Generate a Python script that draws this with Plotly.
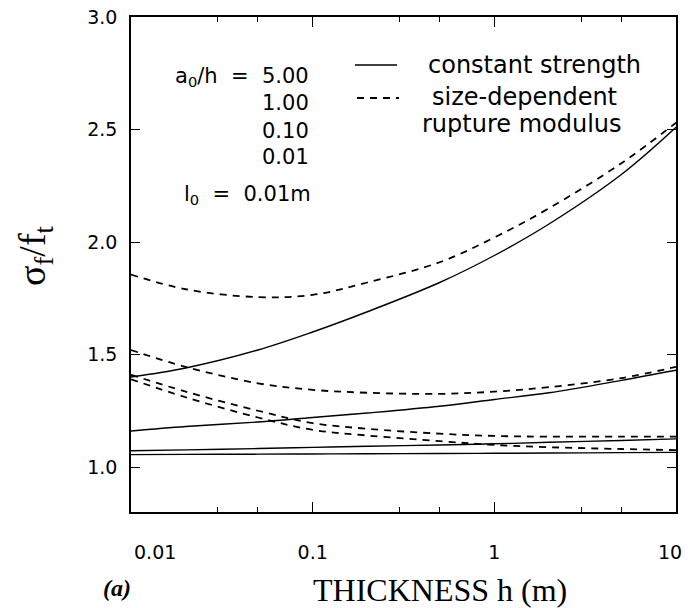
import plotly.graph_objects as go

# Thickness h (m)
H = [0.01, 0.02, 0.05, 0.1, 0.2, 0.5, 1, 2, 5, 10]

# constant strength (solid), a0/h = 5.00, 1.00, 0.10, 0.01
S_500 = [1.40, 1.44, 1.52, 1.60, 1.69, 1.82, 1.94, 2.08, 2.30, 2.51]
S_100 = [1.16, 1.18, 1.20, 1.22, 1.24, 1.27, 1.30, 1.33, 1.385, 1.43]
S_010 = [1.072, 1.076, 1.082, 1.087, 1.092, 1.098, 1.103, 1.11, 1.118, 1.125]
S_001 = [1.055, 1.056, 1.057, 1.058, 1.059, 1.06, 1.061, 1.062, 1.064, 1.065]

# size-dependent rupture modulus (dashed)
D_500 = [1.855, 1.79, 1.755, 1.765, 1.82, 1.91, 2.02, 2.15, 2.35, 2.53]
D_100 = [1.52, 1.445, 1.372, 1.343, 1.33, 1.325, 1.335, 1.355, 1.395, 1.445]
D_010 = [1.41, 1.335, 1.25, 1.195, 1.17, 1.148, 1.138, 1.135, 1.135, 1.135]
D_001 = [1.39, 1.31, 1.22, 1.165, 1.14, 1.115, 1.098, 1.088, 1.08, 1.075]

X_TICKS = [0.01, 0.1, 1, 10]
X_TICKTEXT = ["\u00a0" * 8 + "0.01", "0.1", "1", "10" + "\u00a0" * 2]
X_MINOR = [0.03, 0.05, 0.3, 0.5, 3, 5]
Y_TICKS = [1.0, 1.5, 2.0, 2.5, 3.0]
Y_TICKTEXT = ["1.0", "1.5", "2.0", "2.5", "3.0"]

fig = go.Figure()
solid = dict(color="black", width=1.4, shape="spline")
dashed = dict(color="black", width=1.8, dash="7px,6px", shape="spline")
for ys in [S_500, S_100, S_010, S_001]:
    fig.add_trace(go.Scatter(x=H, y=ys, mode="lines", line=solid, showlegend=False))
for ys in [D_500, D_100, D_010, D_001]:
    fig.add_trace(go.Scatter(x=H, y=ys, mode="lines", line=dashed, showlegend=False))

sans = "DejaVu Sans"
# page has an 8px body margin, so the figure is 8px smaller and margins shifted
fig.update_layout(
    width=684, height=600,
    margin=dict(l=123, r=16, t=9, b=96),
    paper_bgcolor="white", plot_bgcolor="white",
    xaxis=dict(
        type="log", range=[-2, 1], automargin=False,
        tickmode="array", tickvals=X_TICKS, ticktext=X_TICKTEXT,
        ticks="inside", ticklen=10, tickwidth=1.3, tickcolor="black",
        showline=True, linecolor="black", linewidth=1.6, mirror="ticks",
        showgrid=False, zeroline=False, ticklabeloverflow="allow",
        tickfont=dict(family=sans, size=19, color="black"),
        ticklabelstandoff=22,
        minor=dict(tickmode="array", tickvals=X_MINOR, ticks="inside",
                   ticklen=5, tickcolor="black", tickwidth=1.2, showgrid=False),
    ),
    yaxis=dict(
        range=[0.8, 3.0], automargin=False,
        tickmode="array", tickvals=Y_TICKS, ticktext=Y_TICKTEXT,
        ticks="inside", ticklen=9, tickwidth=1.3, tickcolor="black",
        showline=True, linecolor="black", linewidth=1.6, mirror="ticks",
        showgrid=False, zeroline=False, ticklabeloverflow="allow",
        tickfont=dict(family=sans, size=19, color="black"),
        ticklabelstandoff=8,
    ),
)

def px(x):
    return (x - 131) / 545

def py(y):
    return (512 - y) / 495

# legend samples
fig.add_shape(type="line", xref="paper", yref="paper", x0=px(355), x1=px(397),
              y0=py(65), y1=py(65), line=dict(color="black", width=1.4))
fig.add_shape(type="line", xref="paper", yref="paper", x0=px(357), x1=px(399),
              y0=py(98), y1=py(98), line=dict(color="black", width=1.8, dash="7px,6px"))

texts = [
    ("constant strength", px(426), py(65), "left", 24),
    ("size-dependent", px(430), py(97), "left", 24),
    ("rupture modulus", px(420), py(124), "left", 24),
    ("a<sub>0</sub>/h\u00a0\u00a0=\u00a0\u00a05.00", px(311), py(77), "right", 21),
    ("1.00", px(311), py(103), "right", 21),
    ("0.10", px(311), py(131), "right", 21),
    ("0.01", px(311), py(157), "right", 21),
    ("l<sub>0</sub>\u00a0\u00a0=\u00a0\u00a00.01m", px(313), py(195), "right", 21),
]
for t, x, y, xa, s in texts:
    fig.add_annotation(text=t, x=x, y=y, xref="paper", yref="paper",
                       xanchor=xa, yanchor="middle", showarrow=False,
                       font=dict(family=sans, size=s, color="black"))

# axis titles
fig.add_annotation(text="THICKNESS h (m)", x=px(440), y=py(590), xref="paper", yref="paper",
                   xanchor="center", yanchor="middle", showarrow=False,
                   font=dict(family="Liberation Serif", size=32, color="black"))
fig.add_annotation(text="<b><i>(a)</i></b>", x=px(117), y=py(588), xref="paper", yref="paper",
                   xanchor="center", yanchor="middle", showarrow=False,
                   font=dict(family="Liberation Serif", size=24, color="black"))
fig.add_annotation(text="σ<sub>f</sub>/f<sub>t</sub>", x=px(35), y=py(256), xref="paper", yref="paper",
                   xanchor="center", yanchor="middle", showarrow=False, textangle=-90,
                   font=dict(family="Liberation Serif", size=38, color="black"))

fig.write_html("out.html")
